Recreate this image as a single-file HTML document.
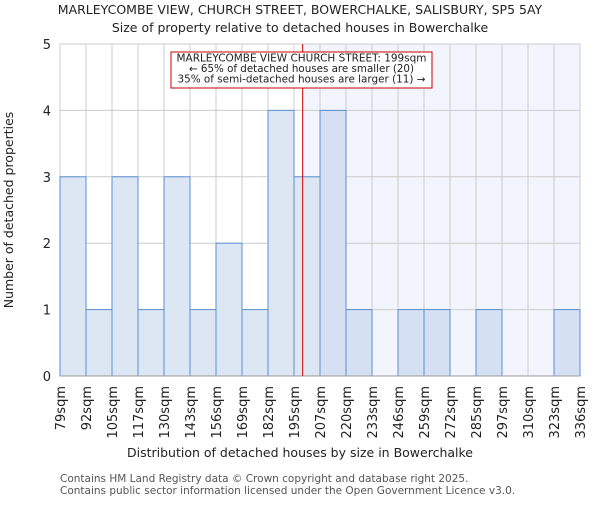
<!DOCTYPE html>
<html><head><meta charset="utf-8"><style>
body{margin:0;background:#fff}
svg text{font-family:"DejaVu Sans","Liberation Sans",sans-serif;fill:#222}
</style></head><body>
<svg id="chart" width="600" height="500" xmlns="http://www.w3.org/2000/svg">
<text x="300" y="14" text-anchor="middle" font-size="12.5">MARLEYCOMBE VIEW, CHURCH STREET, BOWERCHALKE, SALISBURY, SP5 5AY</text>
<text x="300" y="32" text-anchor="middle" font-size="12.5">Size of property relative to detached houses in Bowerchalke</text>
<g id="plot"></g>
<text x="300" y="457" text-anchor="middle" font-size="12.5">Distribution of detached houses by size in Bowerchalke</text>
<text transform="translate(13,210) rotate(-90)" text-anchor="middle" font-size="12.5">Number of detached properties</text>
<text x="60" y="482" font-size="10.5" style="fill:#555">Contains HM Land Registry data © Crown copyright and database right 2025.</text>
<text x="60" y="494" font-size="10.5" style="fill:#555">Contains public sector information licensed under the Open Government Licence v3.0.</text>
</svg>
<script>
const binLabels=["79sqm","92sqm","105sqm","117sqm","130sqm","143sqm","156sqm","169sqm","182sqm","195sqm","207sqm","220sqm","233sqm","246sqm","259sqm","272sqm","285sqm","297sqm","310sqm","323sqm","336sqm"];
const binEdges=[79,92,105,117,130,143,156,169,182,195,207,220,233,246,259,272,285,297,310,323,336];
const counts=[3,1,3,1,3,1,2,1,4,3,4,1,0,1,1,0,1,0,0,1];
const yTicks=[0,1,2,3,4,5];
const propertySize=199;
const NS="http://www.w3.org/2000/svg";
const L=60,R=580,T=44,B=376;
const nb=counts.length,bw=(R-L)/nb;
const xi=i=>L+i*bw;
function xv(v){for(let i=0;i<nb;i++){if(v>=binEdges[i]&&v<=binEdges[i+1])return xi(i)+(v-binEdges[i])/(binEdges[i+1]-binEdges[i])*bw;}return v<binEdges[0]?L:R;}
const y=v=>B-(v/5)*(B-T);
const g=document.getElementById('plot');
function mk(t,a){const e=document.createElementNS(NS,t);for(const k in a)e.setAttribute(k,a[k]);g.appendChild(e);return e;}
const px=xv(propertySize);
const sh=mk('rect',{x:px,y:T,width:R-px,height:B-T,fill:'#f2f5fd'});


for(let i=0;i<=nb;i++){const l=mk('line',{x1:xi(i),x2:xi(i),y1:T,y2:B,stroke:'#cccccc'});

}
yTicks.forEach(t=>{const l=mk('line',{x1:L,x2:R,y1:y(t),y2:y(t),stroke:'#cccccc'});


const tx=mk('text',{x:L-9,y:y(t)+5,'text-anchor':'end','font-size':'13'});tx.textContent=t;

});
counts.forEach((c,i)=>{if(c<=0)return;const right=xi(i)>=px;
const r=mk('rect',{x:xi(i),y:y(c),width:bw,height:B-y(c),fill:right?'#d5e0f2':'#dde7f4',stroke:'#5b8fd4','stroke-width':1});

});
const ax=mk('line',{x1:L,x2:R,y1:B,y2:B,stroke:'#999'});


binLabels.forEach((s,i)=>{const tx=mk('text',{transform:`translate(${xi(i)+5},${B+10}) rotate(-90)`,'text-anchor':'end','font-size':'13'});tx.textContent=s;

});
const ml=mk('line',{x1:px,x2:px,y1:T,y2:B,stroke:'#cc0000','stroke-width':1});


const bx=mk('rect',{x:171,y:52,width:261,height:36,fill:'#fff',stroke:'#cc0000'});


["MARLEYCOMBE VIEW CHURCH STREET: 199sqm","← 65% of detached houses are smaller (20)","35% of semi-detached houses are larger (11) →"].forEach((s,k)=>{
const tx=mk('text',{x:301.5,y:61.5+k*10.5,'text-anchor':'middle','font-size':'10.3','textLength':k==2?'248':(k==0?'250':'225'),'lengthAdjust':'spacingAndGlyphs'});tx.textContent=s;

});
</script>
</body></html>
